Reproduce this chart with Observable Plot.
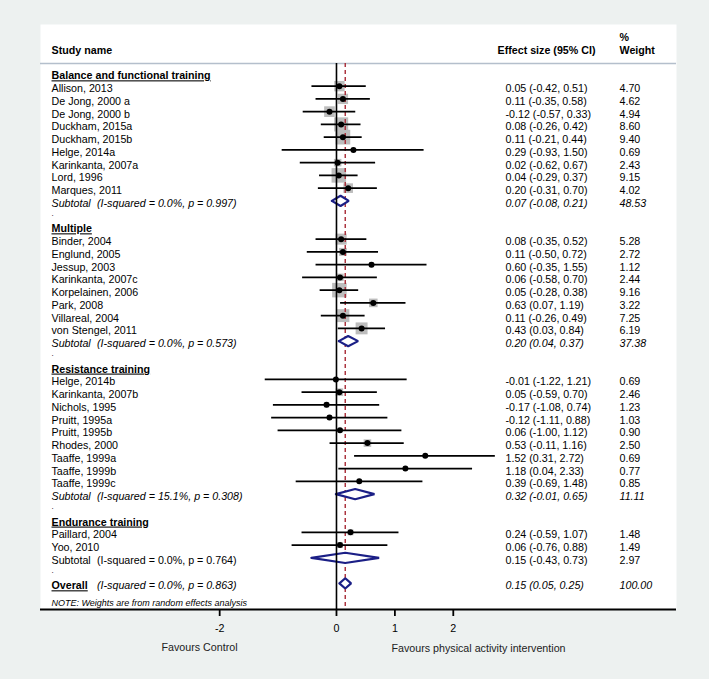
<!DOCTYPE html>
<html><head><meta charset="utf-8">
<script src="https://cdn.jsdelivr.net/npm/d3@7"></script>
<script src="https://cdn.jsdelivr.net/npm/@observablehq/plot@0.6"></script>
<style>
html,body{margin:0;padding:0;background:#edf1f0;}
#chart svg{display:block;}
</style></head>
<body><div id="chart"></div>
<script>
// ---- data ----
const groupNames = ["Balance and functional training", "Multiple", "Resistance training", "Endurance training"];
const studyNames = [
  "Allison, 2013","De Jong, 2000 a","De Jong, 2000 b","Duckham, 2015a","Duckham, 2015b","Helge, 2014a","Karinkanta, 2007a","Lord, 1996","Marques, 2011",
  "Binder, 2004","Englund, 2005","Jessup, 2003","Karinkanta, 2007c","Korpelainen, 2006","Park, 2008","Villareal, 2004","von Stengel, 2011",
  "Helge, 2014b","Karinkanta, 2007b","Nichols, 1995","Pruitt, 1995a","Pruitt, 1995b","Rhodes, 2000","Taaffe, 1999a","Taaffe, 1999b","Taaffe, 1999c",
  "Paillard, 2004","Yoo, 2010"
];
const studyGroup = [0,0,0,0,0,0,0,0,0, 1,1,1,1,1,1,1,1, 2,2,2,2,2,2,2,2,2, 3,3];
const studyEffect = [0.05,0.11,-0.12,0.08,0.11,0.29,0.02,0.04,0.20, 0.08,0.11,0.60,0.06,0.05,0.63,0.11,0.43, -0.01,0.05,-0.17,-0.12,0.06,0.53,1.52,1.18,0.39, 0.24,0.06];
const studyLower  = [-0.42,-0.35,-0.57,-0.26,-0.21,-0.93,-0.62,-0.29,-0.31, -0.35,-0.50,-0.35,-0.58,-0.28,0.07,-0.26,0.03, -1.22,-0.59,-1.08,-1.11,-1.00,-0.11,0.31,0.04,-0.69, -0.59,-0.76];
const studyUpper  = [0.51,0.58,0.33,0.42,0.44,1.50,0.67,0.37,0.70, 0.52,0.72,1.55,0.70,0.38,1.19,0.49,0.84, 1.21,0.70,0.74,0.88,1.12,1.16,2.72,2.33,1.48, 1.07,0.88];
const studyWeight = [4.70,4.62,4.94,8.60,9.40,0.69,2.43,9.15,4.02, 5.28,2.72,1.12,2.44,9.16,3.22,7.25,6.19, 0.69,2.46,1.23,1.03,0.90,2.50,0.69,0.77,0.85, 1.48,1.49];

const subEffect = [0.07, 0.20, 0.32, 0.15];
const subLower  = [-0.08, 0.04, -0.01, -0.43];
const subUpper  = [0.21, 0.37, 0.65, 0.73];
const subWeight = [48.53, 37.38, 11.11, 2.97];
const subI2     = [0.0, 0.0, 15.1, 0.0];
const subP      = [0.997, 0.573, 0.308, 0.764];
const subItalic = [true, true, true, false];

const overallEffect = 0.15, overallLower = 0.05, overallUpper = 0.25, overallWeight = 100.00;
const overallI2 = 0.0, overallP = 0.863;

const xTicks = [-2, 0, 1, 2];
const noteText = "NOTE: Weights are from random effects analysis";

// ---- build rows ----
const f2 = v => v.toFixed(2);
const ci = (e, l, u) => `${f2(e)} (${f2(l)}, ${f2(u)})`;
const headers = [], studies = [], subtotals = [], dots = [];
let row = 0;
groupNames.forEach((g, gi) => {
  headers.push({row, label: g});
  row++;
  studyNames.forEach((n, i) => {
    if (studyGroup[i] !== gi) return;
    studies.push({row, name: n, est: studyEffect[i], lo: studyLower[i], hi: studyUpper[i], w: studyWeight[i],
      ci: ci(studyEffect[i], studyLower[i], studyUpper[i]), wt: f2(studyWeight[i])});
    row++;
  });
  subtotals.push({row, est: subEffect[gi], lo: subLower[gi], hi: subUpper[gi], italic: subItalic[gi],
    stat: `(I-squared = ${subI2[gi].toFixed(1)}%, p = ${subP[gi].toFixed(3)})`,
    ci: ci(subEffect[gi], subLower[gi], subUpper[gi]), wt: f2(subWeight[gi]), label: "Subtotal"});
  row++;
  dots.push({row});
  row++;
});
const overall = {row, est: overallEffect, lo: overallLower, hi: overallUpper, italic: true,
  stat: `(I-squared = ${overallI2.toFixed(1)}%, p = ${overallP.toFixed(3)})`,
  ci: ci(overallEffect, overallLower, overallUpper), wt: f2(overallWeight)};
const pooled = [...subtotals, overall];
const pooledIt = pooled.filter(d => d.italic), pooledUp = pooled.filter(d => !d.italic);

// diamond outlines
const dh = 0.4;
const diamondPts = [];
pooled.forEach((d, k) => {
  [[d.lo, d.row], [d.est, d.row - dh], [d.hi, d.row], [d.est, d.row + dh], [d.lo, d.row]]
    .forEach(([x, y]) => diamondPts.push({k, x, y}));
});

// layout (row units)
const yTop = -3.835, yBottom = 42.05, headerLineRow = -0.78, colHeadRow = -2, pctRow = -3, noteRow = 41.38;
const tickLen = 0.55;
const tdy = 2.5;
const colName = 11, colCI = 465, colWt = 579, colStat = 56.5, colCIhead = 457;
const L = (extra) => Object.assign({frameAnchor: "left", y: "row", dy: tdy, textAnchor: "start"}, extra);

const plot = Plot.plot({
  width: 709, height: 679,
  marginLeft: 40, marginRight: 33, marginTop: 24, marginBottom: 70,
  style: {fontFamily: "'Liberation Sans', Arial, sans-serif", fontSize: "10.7px", background: "#edf1f0", color: "black", overflow: "visible"},
  x: {domain: [-5.068, 5.822]},
  y: {domain: [yTop, yBottom], reverse: true, axis: null},
  r: {type: "sqrt", domain: [0, 9.4], range: [0, 8.3]},
  marks: [
    Plot.frame({fill: "white", stroke: "none"}),
    Plot.ruleY([headerLineRow], {stroke: "#b4bfcc", strokeWidth: 1.5}),
    // weight boxes
    Plot.dot(studies, {x: "est", y: "row", r: "w", symbol: "square", fill: "#bdbdbd", stroke: "none"}),
    // overall line
    Plot.ruleX([overallEffect], {y1: headerLineRow, y2: yBottom, stroke: "#a82a35", strokeWidth: 1.4, strokeDasharray: "4,3"}),
    // CIs
    Plot.ruleY(studies, {y: "row", x1: "lo", x2: "hi", stroke: "black", strokeWidth: 1.9}),
    Plot.dot(studies, {x: "est", y: "row", r: 3, fill: "black", stroke: "none"}),
    // diamonds
    Plot.line(diamondPts, {x: "x", y: "y", z: "k", fill: "white", stroke: "#1b1f86", strokeWidth: 2.2, strokeLinejoin: "miter"}),
    // null line
    Plot.ruleX([0], {y1: headerLineRow, y2: yBottom, stroke: "black", strokeWidth: 1.6}),
    Plot.ruleY([yBottom], {stroke: "black", strokeWidth: 2}),
    // axis ticks and labels
    Plot.ruleX(xTicks, {y1: yBottom, y2: yBottom + tickLen, stroke: "black", strokeWidth: 1.8}),
    Plot.axisX({ticks: xTicks, tickSize: 0, tickPadding: 15, label: null, fontSize: 10.7, tickFormat: d => String(d)}),
    // column headers
    Plot.text(["Study name"], L({y: () => colHeadRow, dx: colName, fontWeight: "bold"})),
    Plot.text(["Effect size (95% CI)"], L({y: () => colHeadRow, dx: colCIhead, fontWeight: "bold"})),
    Plot.text(["Weight"], L({y: () => colHeadRow, dx: colWt, fontWeight: "bold"})),
    Plot.text(["%"], L({y: () => pctRow, dx: colWt, fontWeight: "bold"})),
    // group headers
    Plot.text(headers, L({text: "label", dx: colName, fontWeight: "bold"})),
    // studies
    Plot.text(studies, L({text: "name", dx: colName})),
    Plot.text(studies, L({text: "ci", dx: colCI})),
    Plot.text(studies, L({text: "wt", dx: colWt})),
    // subtotals (italic)
    Plot.text(subtotals.filter(d => d.italic), L({text: "label", dx: colName, fontStyle: "italic"})),
    Plot.text(pooledIt, L({text: "stat", dx: colStat, fontStyle: "italic"})),
    Plot.text(pooledIt, L({text: "ci", dx: colCI, fontStyle: "italic"})),
    Plot.text(pooledIt, L({text: "wt", dx: colWt, fontStyle: "italic"})),
    // subtotals (upright)
    Plot.text(subtotals.filter(d => !d.italic), L({text: "label", dx: colName})),
    Plot.text(pooledUp, L({text: "stat", dx: colStat})),
    Plot.text(pooledUp, L({text: "ci", dx: colCI})),
    Plot.text(pooledUp, L({text: "wt", dx: colWt})),
    Plot.text([overall], L({text: () => "Overall", dx: colName, fontWeight: "bold"})),
    Plot.text(dots, L({text: () => ".", dx: colName, dy: tdy - 3, fontSize: 8})),
    Plot.text([noteText], L({y: () => noteRow, dx: colName, fontStyle: "italic", fontSize: 9})),
    // favours labels
    Plot.text(["Favours Control"], {frameAnchor: "bottom-left", dx: 159, dy: 41, textAnchor: "middle", fill: "#222"}),
    Plot.text(["Favours physical activity intervention"], {frameAnchor: "bottom-left", dx: 438, dy: 42, textAnchor: "middle", fill: "#222"})
  ]
});

const underlined = new Set([...groupNames, "Overall"]);
d3.select(plot).selectAll("text").filter(function() { return underlined.has(this.textContent); })
  .style("text-decoration", "underline");
document.getElementById("chart").appendChild(plot);
</script>
</body></html>
